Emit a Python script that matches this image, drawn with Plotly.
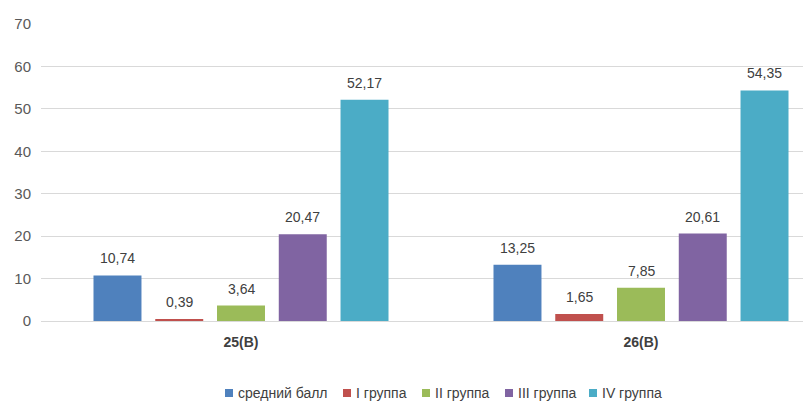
import plotly.graph_objects as go

categories = ["25(В)", "26(В)"]
series_names = ["средний балл", "I группа", "II группа", "III группа", "IV группа"]
series_values = [
    [10.74, 13.25],
    [0.39, 1.65],
    [3.64, 7.85],
    [20.47, 20.61],
    [52.17, 54.35],
]
series_colors = ["#4f81bd", "#c0504d", "#9bbb59", "#8064a2", "#4bacc6"]
y_ticks = [0, 10, 20, 30, 40, 50, 60, 70]

FONT = "Liberation Sans, Arial"
BARGAP = 0.228
GROUPGAP = 0.223
W, H = 803, 401
ML, MR, MT, MB = 41, 0, 24, 80
PW, PH = W - ML - MR, H - MT - MB

fig = go.Figure()
xs = list(range(len(categories)))
n = len(series_names)
for name, vals, col in zip(series_names, series_values, series_colors):
    fig.add_trace(go.Bar(x=xs, y=vals, name=name, showlegend=False,
                         marker=dict(color=col, line=dict(width=0))))

# value labels above each bar
slot = (1 - BARGAP) / n
for k, vals in enumerate(series_values):
    off = -(1 - BARGAP) / 2 + (k + 0.5) * slot
    for i, v in enumerate(vals):
        fig.add_annotation(
            x=i + off, y=v, text=f"{v:.2f}".replace(".", ","),
            showarrow=False, yanchor="middle", yshift=17,
            font=dict(family=FONT, size=14, color="#404040"),
        )

# legend row along the bottom: small square swatch + label
legend_left = [225, 343, 422, 505, 589]
legend_y = 393
sw = 8
for name, col, px in zip(series_names, series_colors, legend_left):
    x0 = (px - ML) / PW
    x1 = (px + sw - ML) / PW
    yc = (H - MB - legend_y) / PH
    half = (sw / 2) / PH
    fig.add_shape(type="rect", xref="paper", yref="paper", x0=x0, x1=x1,
                  y0=yc - half, y1=yc + half, fillcolor=col, line=dict(width=0))
    fig.add_annotation(xref="paper", yref="paper", x=(px + sw + 3 - ML) / PW, y=yc,
                       xanchor="left", yanchor="middle", showarrow=False, text=name,
                       font=dict(family=FONT, size=14, color="#404040"))

fig.update_layout(
    width=W, height=H,
    margin=dict(l=ML, r=MR, t=MT, b=MB, autoexpand=False),
    paper_bgcolor="white", plot_bgcolor="white",
    barmode="group", bargap=BARGAP, bargroupgap=GROUPGAP,
    font=dict(family=FONT, size=14, color="#595959"),
    showlegend=False,
    xaxis=dict(range=[-0.5, -0.5 + PW / 400], tickvals=xs,
               ticktext=[f"<b>{c}</b>" for c in categories],
               tickfont=dict(family=FONT, size=14, color="#404040"),
               showgrid=False, zeroline=False, showline=False, ticks="",
               ticklabelstandoff=11),
    yaxis=dict(range=[0, 70], tickvals=y_ticks, showgrid=True, gridcolor="#d9d9d9",
               gridwidth=1, zeroline=True, zerolinecolor="#d9d9d9", zerolinewidth=1,
               showline=False, ticks="", ticklabelstandoff=9,
               tickfont=dict(family=FONT, size=15, color="#595959")),
)

fig.write_html("out.html")
